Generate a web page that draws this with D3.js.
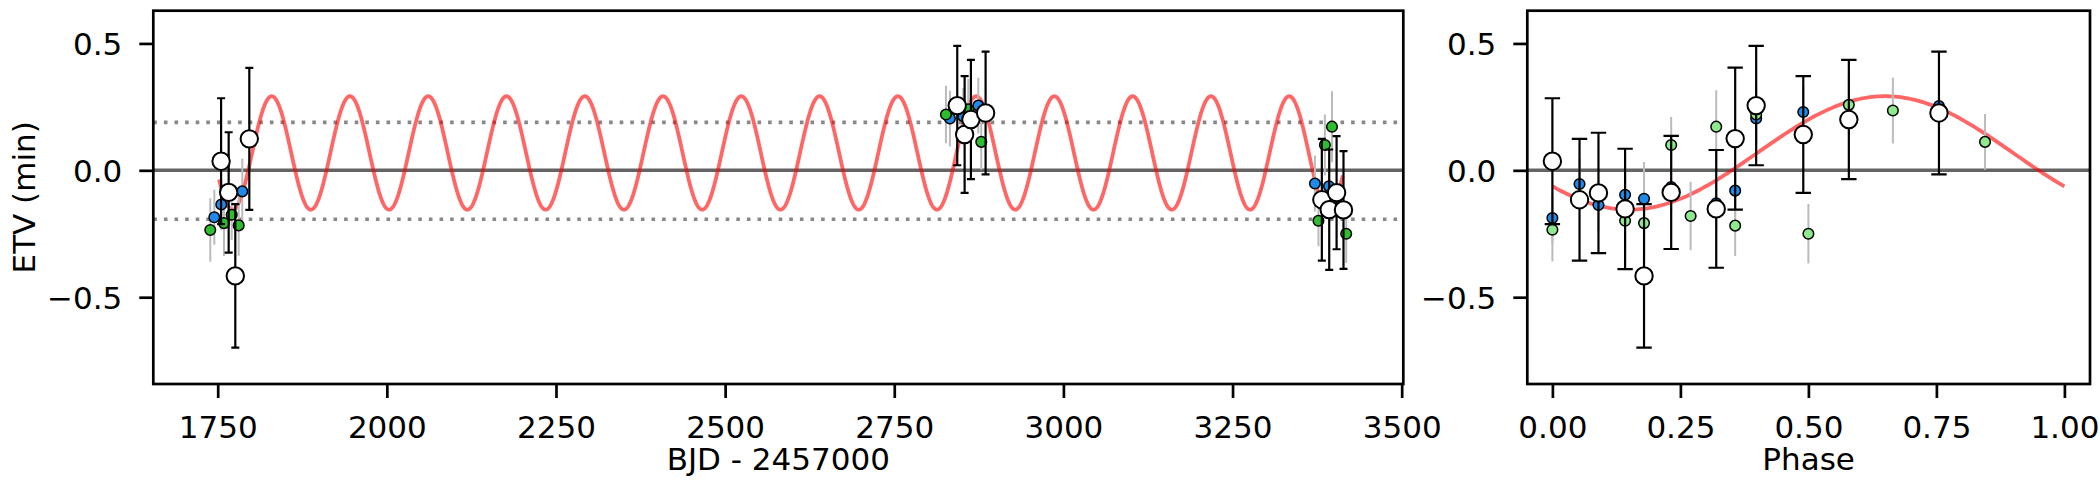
<!DOCTYPE html>
<html><head><meta charset="utf-8">
<script src="https://cdn.jsdelivr.net/npm/d3@7"></script>
<style>
body{margin:0;background:#fff;}
svg{display:block;font-family:"DejaVu Sans",sans-serif;}
</style></head>
<body><svg id="c" width="2100" height="480"></svg>
<script>
// ---------- data: left panel (time) ----------
const whiteT   = [1755.0, 1766.2, 1776.0, 1796.7, 2843.1, 2854.0, 2863.3, 2885.0, 3382.0, 3392.9, 3403.8, 3414.0];
const whiteV   = [0.036, -0.087, -0.416, 0.124, 0.255, 0.141, 0.200, 0.226, -0.116, -0.155, -0.088, -0.156];
const whiteErr = [0.248, 0.237, 0.283, 0.280, 0.235, 0.230, 0.235, 0.242, 0.240, 0.237, 0.223, 0.232];

const blueT   = [1745.0, 1755.3, 1786.3, 2832.3, 2852.0, 2874.2, 3371.8, 3392.5];
const blueV   = [-0.185, -0.135, -0.083, 0.204, 0.213, 0.255, -0.052, -0.063];
const blueErr = [0.108, 0.100, 0.130, 0.110, 0.110, 0.110, 0.110, 0.110];

const greenT   = [1739.0, 1759.3, 1770.7, 1781.0, 2826.4, 2859.4, 2878.6, 3377.0, 3386.5, 3397.0, 3418.0];
const greenV   = [-0.235, -0.208, -0.175, -0.217, 0.220, 0.240, 0.112, -0.199, 0.100, 0.172, -0.250];
const greenErr = [0.125, 0.130, 0.100, 0.120, 0.113, 0.120, 0.110, 0.100, 0.120, 0.140, 0.115];

// ---------- data: right panel (phase) ----------
const whitePh    = [0.000, 0.053, 0.090, 0.142, 0.179, 0.232, 0.320, 0.357, 0.398, 0.490, 0.579, 0.755];
const whitePhV   = [0.036, -0.116, -0.089, -0.152, -0.416, -0.087, -0.152, 0.125, 0.255, 0.141, 0.200, 0.226];
const whitePhErr = [0.248, 0.240, 0.237, 0.237, 0.283, 0.223, 0.232, 0.280, 0.235, 0.230, 0.235, 0.242];

const bluePh    = [0.000, 0.053, 0.090, 0.142, 0.179, 0.232, 0.320, 0.357, 0.398, 0.490, 0.755];
const bluePhV   = [-0.188, -0.054, -0.137, -0.096, -0.112, -0.066, -0.130, -0.080, 0.204, 0.230, 0.253];
const bluePhErr = [0.100, 0.100, 0.100, 0.100, 0.145, 0.100, 0.100, 0.100, 0.100, 0.100, 0.100];

const greenPh    = [0.000, 0.142, 0.179, 0.232, 0.270, 0.320, 0.357, 0.398, 0.500, 0.579, 0.665, 0.845];
const greenPhV   = [-0.234, -0.199, -0.208, 0.100, -0.180, 0.172, -0.218, 0.220, -0.250, 0.258, 0.236, 0.112];
const greenPhErr = [0.125, 0.120, 0.120, 0.110, 0.135, 0.144, 0.120, 0.120, 0.117, 0.120, 0.130, 0.110];

// ---------- model (fitted sinusoid) ----------
const MODEL_OFFSET = 0.0685, MODEL_AMP = 0.2235, MODEL_PEAK_PHASE = 0.65;
const PERIOD = 115.69, T0 = 1754.6;
const MODEL_T_RANGE = [1752, 3413];
const ENVELOPE = [0.189, -0.193];

const xTicksT = [1750, 2000, 2250, 2500, 2750, 3000, 3250, 3500];
const xTicksPh = [0, 0.25, 0.5, 0.75, 1.0];
const yTicks = [-0.5, 0.0, 0.5];

// ---------- layout ----------
const svg = d3.select("#c");
const plotTop = 10.7, plotBottom = 384;
const L = {x0: 153.3, x1: 1403.3};
const R = {x0: 1527.3, x1: 2090};
const FS = 31;

const y = d3.scaleLinear().domain([-0.842, 0.629]).range([plotBottom, plotTop]);
const xT = d3.scaleLinear().domain([1654.8, 3502.4]).range([L.x0, L.x1]);
const xP = d3.scaleLinear().domain([-0.049, 1.050]).range([R.x0, R.x1]);

const model = ph => MODEL_OFFSET + MODEL_AMP * Math.cos(2*Math.PI*(ph - MODEL_PEAK_PHASE));

const BLUE = "#1f8ae8", GREEN_L = "#2ebd2e", GREEN_R = "#8ee88e";
const fmtY = v => (v < 0 ? "\u2212" : "") + Math.abs(v).toFixed(1);

function drawPanel(x, x0, x1, opts) {
  const clipId = "clip" + opts.id;
  svg.append("clipPath").attr("id", clipId).append("rect")
    .attr("x", x0).attr("y", plotTop).attr("width", x1 - x0).attr("height", plotBottom - plotTop);
  const g = svg.append("g").attr("clip-path", `url(#${clipId})`);

  g.append("line").attr("x1", x0).attr("x2", x1).attr("y1", y(0)).attr("y2", y(0))
    .attr("stroke", "#646464").attr("stroke-width", 3.6);
  if (opts.envelope) {
    ENVELOPE.forEach(v => g.append("line").attr("x1", x0).attr("x2", x1)
      .attr("y1", y(v)).attr("y2", y(v)).attr("stroke", "#888")
      .attr("stroke-width", 3.6).attr("stroke-dasharray", "3.6,7"));
  }
  g.append("path").datum(opts.curve)
    .attr("d", d3.line().x(d => x(d[0])).y(d => y(d[1])))
    .attr("fill", "none").attr("stroke", "#ff0000").attr("stroke-opacity", 0.6)
    .attr("stroke-width", 3.8);

  opts.small.forEach(s => {
    s.xs.forEach((xv, i) => {
      g.append("line").attr("x1", x(xv)).attr("x2", x(xv))
        .attr("y1", y(s.vs[i] - s.es[i])).attr("y2", y(s.vs[i] + s.es[i]))
        .attr("stroke", "#bbb").attr("stroke-width", 2);
    });
  });
  opts.small.forEach(s => {
    g.selectAll(null).data(s.xs.map((xv, i) => [xv, s.vs[i]])).join("circle")
      .attr("cx", d => x(d[0])).attr("cy", d => y(d[1])).attr("r", 5.3)
      .attr("fill", s.color).attr("stroke", "#000").attr("stroke-width", 1.5);
  });
  const w = opts.white;
  w.xs.forEach((xv, i) => {
    const cx = x(xv), ya = y(w.vs[i] + w.es[i]), yb = y(w.vs[i] - w.es[i]);
    g.append("line").attr("x1", cx).attr("x2", cx).attr("y1", ya).attr("y2", yb)
      .attr("stroke", "#000").attr("stroke-width", 2.2);
    [ya, yb].forEach(yy => g.append("line").attr("x1", cx - opts.cap).attr("x2", cx + opts.cap)
      .attr("y1", yy).attr("y2", yy).attr("stroke", "#000").attr("stroke-width", 2.2));
  });
  g.selectAll(null).data(w.xs.map((xv, i) => [xv, w.vs[i]])).join("circle")
    .attr("cx", d => x(d[0])).attr("cy", d => y(d[1])).attr("r", 8.7)
    .attr("fill", "#fff").attr("stroke", "#000").attr("stroke-width", 2);

  const ax = svg.append("g").attr("transform", `translate(0,${plotBottom})`)
    .call(d3.axisBottom(x).tickValues(opts.xTicks).tickFormat(opts.xFmt)
      .tickSize(14).tickPadding(18).tickSizeOuter(0));
  const ay = svg.append("g").attr("transform", `translate(${x0},0)`)
    .call(d3.axisLeft(y).tickValues(yTicks).tickFormat(fmtY)
      .tickSize(14).tickPadding(17).tickSizeOuter(0));
  [ax, ay].forEach(a => {
    a.select(".domain").remove();
    a.selectAll(".tick line").attr("stroke", "#000").attr("stroke-width", 2.7);
    a.selectAll(".tick text").attr("font-size", FS).attr("fill", "#000")
      .attr("font-family", "DejaVu Sans");
  });
  ay.selectAll(".tick text").attr("dy", "0.36em");

  svg.append("rect").attr("x", x0).attr("y", plotTop).attr("width", x1 - x0).attr("height", plotBottom - plotTop)
    .attr("fill", "none").attr("stroke", "#000").attr("stroke-width", 2.7);

  svg.append("text").attr("x", (x0 + x1) / 2).attr("y", 470).attr("text-anchor", "middle")
    .attr("font-size", FS).text(opts.xlabel);
}

const curveT = d3.range(MODEL_T_RANGE[0], MODEL_T_RANGE[1] + 0.01, 0.5)
  .map(t => [t, model((t - T0) / PERIOD)]);
drawPanel(xT, L.x0, L.x1, {
  id: "L", envelope: true, curve: curveT, cap: 4,
  xTicks: xTicksT, xFmt: d3.format("d"), xlabel: "BJD - 2457000",
  small: [{xs: blueT, vs: blueV, es: blueErr, color: BLUE},
          {xs: greenT, vs: greenV, es: greenErr, color: GREEN_L}],
  white: {xs: whiteT, vs: whiteV, es: whiteErr}
});

const curveP = d3.range(0, 1.0001, 0.005).map(p => [p, model(p)]);
drawPanel(xP, R.x0, R.x1, {
  id: "R", envelope: false, curve: curveP, cap: 7.7,
  xTicks: xTicksPh, xFmt: d3.format(".2f"), xlabel: "Phase",
  small: [{xs: bluePh, vs: bluePhV, es: bluePhErr, color: BLUE},
          {xs: greenPh, vs: greenPhV, es: greenPhErr, color: GREEN_R}],
  white: {xs: whitePh, vs: whitePhV, es: whitePhErr}
});

svg.append("text").attr("transform", `translate(23.5,${(plotTop + plotBottom) / 2}) rotate(-90)`)
  .attr("text-anchor", "middle").attr("dy", "0.36em").attr("font-size", FS).text("ETV (min)");
</script></body></html>
